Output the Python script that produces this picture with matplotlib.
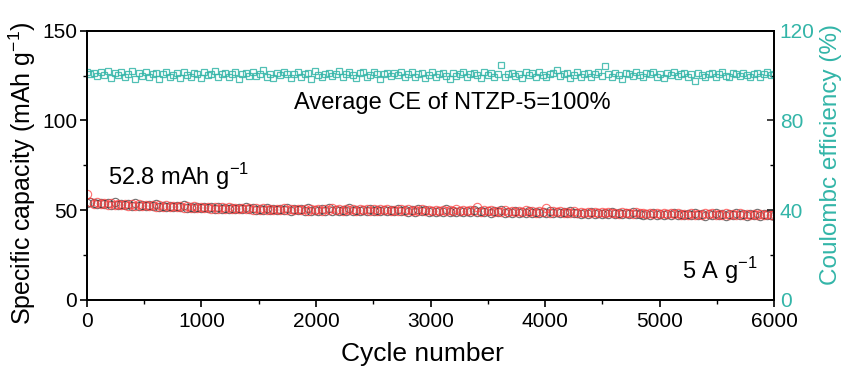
import numpy as np
import matplotlib
matplotlib.use("Agg")
import matplotlib.pyplot as plt
from matplotlib.ticker import MultipleLocator

plt.rcParams['font.family'] = ['Liberation Sans', 'DejaVu Sans']
plt.rcParams['mathtext.fontset'] = 'custom'
plt.rcParams['mathtext.rm'] = 'Liberation Sans'

# discharge capacity (red open circles), one point every 30 cycles
cap_discharge = [
    58.8, 54.8, 53.6, 54.3, 53.2, 54.0, 53.0, 53.9, 52.8, 53.6,
    52.7, 53.5, 52.5, 53.3, 52.6, 53.2, 52.3, 53.0, 52.1, 52.9,
    52.0, 52.8, 51.8, 52.7, 51.7, 52.4, 51.5, 52.3, 51.4, 52.2,
    51.3, 52.1, 51.2, 51.9, 51.0, 51.8, 50.9, 51.7, 50.8, 51.6,
    50.9, 51.5, 50.6, 51.4, 50.5, 51.3, 50.4, 51.2, 50.3, 51.1,
    50.2, 51.0, 50.1, 50.8, 50.0, 50.9, 50.3, 51.2, 50.1, 50.7,
    49.9, 50.8, 50.0, 50.6, 49.8, 50.9, 50.1, 50.5, 49.7, 50.6,
    50.0, 51.3, 49.9, 50.5, 49.8, 50.7, 50.0, 50.4, 49.7, 50.6,
    49.9, 50.8, 49.8, 50.5, 49.6, 50.4, 49.9, 50.7, 49.7, 50.3,
    49.6, 50.6, 49.8, 50.4, 49.5, 50.2, 49.7, 50.5, 49.6, 50.1,
    49.4, 50.3, 49.6, 50.2, 49.3, 50.0, 49.5, 50.4, 49.4, 50.0,
    49.3, 50.1, 49.5, 51.6, 49.2, 49.9, 49.3, 50.2, 49.1, 49.8,
    49.2, 50.0, 49.0, 49.7, 48.9, 49.6, 49.1, 50.3, 48.9, 49.4,
    48.7, 49.6, 48.9, 51.3, 48.6, 49.4, 48.8, 49.3, 48.5, 49.2,
    48.7, 49.4, 48.4, 49.1, 48.6, 49.0, 48.3, 49.2, 48.5, 48.8,
    48.2, 49.0, 48.4, 48.7, 48.1, 48.9, 48.3, 48.6, 48.0, 48.8,
    48.2, 48.5, 47.9, 48.7, 48.1, 48.4, 47.8, 48.5, 48.0, 48.2,
    47.6, 48.4, 47.3, 48.1, 47.5, 48.3, 47.2, 48.0, 47.4, 48.2,
    47.6, 48.3, 47.3, 48.1, 47.5, 48.4, 47.2, 48.0, 47.4, 48.2,
    47.3, 48.1, 47.5, 47.9, 47.2, 48.0, 47.4, 47.8, 47.1, 47.9,
]

# charge capacity (dark grey circles)
cap_charge = [
    54.2, 54.4, 53.8, 53.5, 54.2, 53.3, 53.9, 53.1, 54.4, 52.9,
    53.6, 52.8, 53.3, 52.6, 53.9, 52.5, 53.1, 52.3, 52.9, 52.1,
    53.2, 51.9, 52.6, 51.8, 52.4, 51.6, 52.3, 51.5, 52.7, 51.4,
    52.0, 51.3, 51.9, 51.1, 51.8, 51.0, 51.6, 50.9, 51.9, 50.8,
    51.4, 50.7, 51.3, 50.6, 51.2, 50.5, 51.6, 50.4, 51.0, 50.3,
    50.9, 50.2, 51.4, 50.1, 50.7, 50.0, 50.6, 49.9, 51.3, 49.8,
    50.5, 49.9, 50.4, 49.7, 51.2, 49.8, 50.3, 49.6, 50.4, 49.7,
    51.1, 49.8, 50.3, 49.6, 50.2, 49.5, 51.0, 49.7, 50.2, 49.5,
    50.3, 49.6, 50.9, 49.4, 50.1, 49.5, 50.2, 49.3, 50.0, 49.4,
    50.8, 49.3, 50.0, 49.2, 49.9, 49.1, 50.6, 49.3, 49.9, 49.2,
    49.8, 49.1, 49.7, 49.0, 50.5, 49.1, 49.6, 48.9, 49.7, 49.0,
    49.5, 48.9, 50.3, 48.8, 49.4, 48.9, 49.5, 48.7, 49.3, 48.8,
    50.0, 48.7, 49.2, 48.6, 49.3, 48.5, 49.1, 48.6, 49.8, 48.5,
    49.0, 48.4, 48.9, 48.3, 49.6, 48.4, 48.8, 48.2, 48.9, 48.3,
    49.4, 48.2, 48.7, 48.1, 48.6, 48.0, 49.2, 48.1, 48.5, 47.9,
    48.4, 47.8, 49.0, 47.9, 48.3, 47.7, 48.2, 47.6, 48.8, 47.7,
    48.1, 47.5, 48.0, 47.4, 48.6, 47.5, 47.9, 47.3, 48.0, 47.4,
    48.5, 47.2, 47.8, 47.1, 47.7, 47.3, 48.4, 47.2, 47.6, 47.0,
    47.8, 47.1, 48.5, 47.2, 47.6, 47.0, 47.7, 47.1, 48.3, 47.2,
    47.6, 47.0, 47.7, 47.1, 48.2, 47.0, 47.6, 47.1, 47.5, 47.0,
]

# Coulombic efficiency (teal open squares)
ce = [
    101.8, 100.6, 101.2, 99.8, 101.6, 100.4, 102.0, 98.8, 101.0, 100.2,
    101.8, 99.4, 100.8, 102.2, 98.6, 101.0, 100.0, 101.6, 99.2, 100.6,
    101.4, 98.4, 100.8, 101.8, 99.6, 100.4, 101.2, 99.0, 101.6, 100.2,
    99.4, 101.4, 100.6, 98.8, 101.8, 100.2, 100.8, 102.2, 99.6, 100.6,
    101.2, 99.2, 100.8, 101.8, 98.6, 100.6, 101.4, 99.8, 101.6, 100.0,
    100.8, 102.4, 99.4, 100.6, 98.8, 101.2, 100.2, 101.6, 100.8, 99.0,
    100.6, 101.8, 99.6, 100.8, 101.2, 98.6, 102.2, 100.4, 99.4, 100.8,
    101.4, 99.8, 100.6, 102.0, 99.2, 100.8, 101.6, 100.2, 98.8, 101.0,
    101.6, 99.6, 100.2, 101.8, 100.6, 98.6, 100.8, 101.4, 99.8, 101.2,
    100.4, 101.6, 99.2, 100.8, 101.8, 99.6, 100.6, 101.2, 98.8, 100.4,
    101.8, 99.4, 100.6, 101.2, 100.0, 98.4, 101.4, 99.8, 100.6, 101.8,
    99.2, 100.8, 101.4, 100.2, 99.0, 101.6, 100.4, 101.0, 99.6, 100.8,
    104.8, 99.4, 100.6, 101.4, 99.8, 100.8, 98.8, 101.6, 100.2, 101.0,
    99.2, 101.8, 100.4, 99.6, 100.8, 101.4, 102.6, 99.8, 100.6, 101.0,
    98.8, 100.4, 101.6, 99.6, 100.8, 101.2, 99.2, 100.6, 101.8, 100.0,
    104.2, 100.8, 99.4, 101.2, 100.2, 98.6, 101.4, 100.6, 99.8, 101.6,
    100.4, 99.2, 101.0, 100.6, 101.8, 99.6, 100.8, 98.8, 101.2, 100.4,
    101.6, 99.8, 100.6, 101.0, 99.4, 100.8, 97.6, 101.2, 100.2, 99.6,
    100.8, 101.4, 99.2, 100.6, 101.8, 100.0, 99.4, 101.2, 100.6, 99.8,
    101.4, 100.2, 99.6, 100.8, 101.2, 99.4, 100.6, 101.6, 100.2, 100.8,
]

cycles = np.arange(len(cap_discharge)) * 6000 / (len(cap_discharge) - 1)
cycles[0] = 1

teal = '#33b5a8'
fig = plt.figure(figsize=(8.48, 3.67), dpi=100)
ax = fig.add_axes([0.1025, 0.183, 0.8105, 0.733])
ax2 = ax.twinx()

ax.plot(cycles, cap_charge, 'o', ms=6.0, mfc='none', mec='#333333', mew=0.8, alpha=0.7)
ax.plot(cycles, cap_discharge, 'o', ms=6.0, mfc='none', mec='#ff4040', mew=0.8, alpha=0.75)
ax2.plot(cycles, ce, 's', ms=4.4, mfc='none', mec=teal, mew=0.9, alpha=0.85)

ax.set_xlim(0, 6000)
ax.set_ylim(0, 150)
ax2.set_ylim(0, 120)

ax.xaxis.set_major_locator(MultipleLocator(1000))
ax.xaxis.set_minor_locator(MultipleLocator(500))
ax.yaxis.set_major_locator(MultipleLocator(50))
ax.yaxis.set_minor_locator(MultipleLocator(25))
ax2.yaxis.set_major_locator(MultipleLocator(40))
ax2.yaxis.set_minor_locator(MultipleLocator(20))

ax.tick_params(axis='both', which='major', direction='out', length=5, width=1.2, labelsize=15)
ax.tick_params(axis='both', which='minor', direction='out', length=3, width=1.0)
ax.tick_params(axis='x', pad=4)
ax.tick_params(axis='y', pad=2)
ax2.tick_params(axis='y', which='major', direction='in', length=5, width=1.2, labelsize=15, labelcolor=teal, color='#222222', pad=4)
ax2.tick_params(axis='y', which='minor', direction='in', length=3, width=1.0)

for a in (ax, ax2):
    for s in a.spines.values():
        s.set_linewidth(1.3)

ax.set_xlabel('Cycle number', fontsize=19)
ax.xaxis.set_label_coords(0.488, -0.155)
ax.set_ylabel('Specific capacity (mAh g$^{-1}$)', fontsize=18)
ax.yaxis.set_label_coords(-0.071, 0.47)
ax2.set_ylabel('Coulombc efficiency (%)', fontsize=17.5, color=teal)
ax2.yaxis.set_label_coords(1.066, 0.54)

ax.text(0.302, 0.73, 'Average CE of NTZP-5=100%', transform=ax.transAxes, fontsize=17, ha='left', va='center')
ax.text(0.03, 0.46, '52.8 mAh g$^{-1}$', transform=ax.transAxes, fontsize=17, ha='left', va='center')
ax.text(0.975, 0.11, '5 A g$^{-1}$', transform=ax.transAxes, fontsize=17, ha='right', va='center')

fig.savefig('out.png', dpi=100)
